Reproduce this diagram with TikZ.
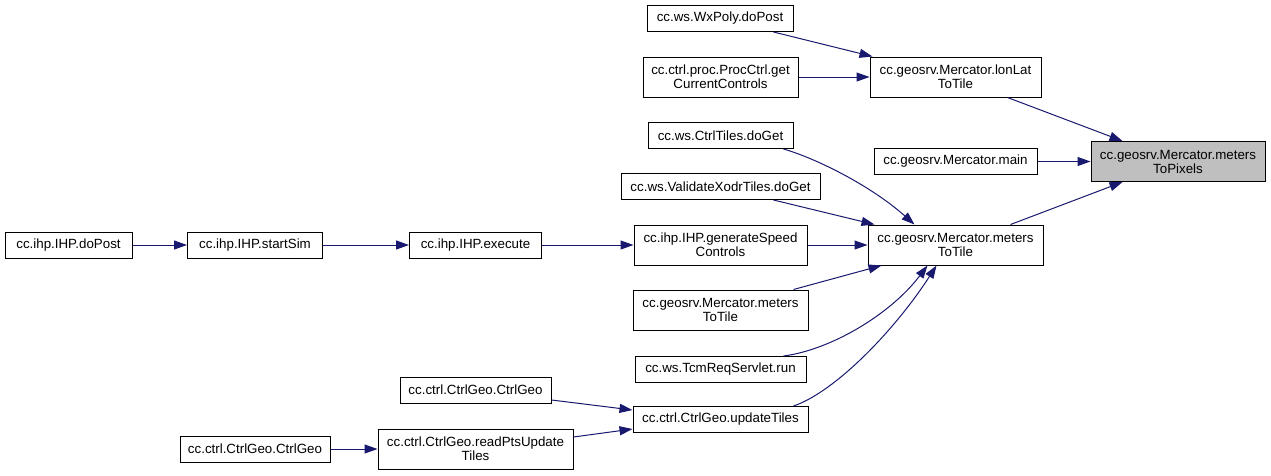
\documentclass[tikz,border=0pt]{standalone}
\usepackage{fontspec}
\setmainfont{Liberation Sans}
\usetikzlibrary{arrows.meta}
\definecolor{edgeblue}{HTML}{191970}
\definecolor{rootgray}{HTML}{BFBFBF}
\begin{document}
\begin{tikzpicture}[x=1pt,y=-1pt,
  box/.style={draw=black, line width=1pt, inner sep=0pt, align=center,
    font=\fontsize{13.33}{14}\selectfont, fill=white},
  one/.style={box, minimum height=26pt},
  two/.style={box, minimum height=40pt},
  edge/.style={draw=edgeblue, line width=1pt, -{Triangle[length=13pt,width=9pt]}}]
\useasboundingbox[fill=white] (0,0) rectangle (1271,475);
% nodes
\node[two, minimum width=174pt, fill=rootgray] (root) at (1178,161.5) {cc.geosrv.Mercator.meters\\ToPixels};
\node[two, minimum width=171pt] (lonlat) at (955.5,77) {cc.geosrv.Mercator.lonLat\\ToTile};
\node[one, minimum width=146pt] (wxpoly) at (720,18.5) {cc.ws.WxPoly.doPost};
\node[two, minimum width=155pt] (procctrl) at (720.5,77) {cc.ctrl.proc.ProcCtrl.get\\CurrentControls};
\node[one, minimum width=163pt] (main) at (955.5,161.5) {cc.geosrv.Mercator.main};
\node[two, minimum width=175pt] (m2t) at (955.5,245) {cc.geosrv.Mercator.meters\\ToTile};
\node[one, minimum width=145pt] (ctrltiles) at (720.5,135.5) {cc.ws.CtrlTiles.doGet};
\node[one, minimum width=199pt] (validate) at (720.5,186.5) {cc.ws.ValidateXodrTiles.doGet};
\node[two, minimum width=173pt] (genspeed) at (720.5,245) {cc.ihp.IHP.generateSpeed\\Controls};
\node[two, minimum width=175pt] (m2tl) at (720.5,310) {cc.geosrv.Mercator.meters\\ToTile};
\node[one, minimum width=171pt] (tcm) at (720.5,369.5) {cc.ws.TcmReqServlet.run};
\node[one, minimum width=175pt] (upd) at (720.5,419.5) {cc.ctrl.CtrlGeo.updateTiles};
\node[one, minimum width=132pt] (execute) at (475.5,245) {cc.ihp.IHP.execute};
\node[one, minimum width=135pt] (startsim) at (255,245) {cc.ihp.IHP.startSim};
\node[one, minimum width=127pt] (dopost) at (68.5,245) {cc.ihp.IHP.doPost};
\node[one, minimum width=151pt] (cgu) at (475.5,390) {cc.ctrl.CtrlGeo.CtrlGeo};
\node[two, minimum width=195pt] (readpts) at (475.5,449) {cc.ctrl.CtrlGeo.readPtsUpdate\\Tiles};
\node[one, minimum width=150pt] (cgl) at (255,449) {cc.ctrl.CtrlGeo.CtrlGeo};
% edges
\draw[edge] ([xshift=-20pt]wxpoly.south east) -- ([xshift=3pt]lonlat.north west);
\draw[edge] (procctrl) -- (lonlat);
\draw[edge] ([xshift=-34pt]lonlat.south east) -- ([xshift=32pt]root.north west);
\draw[edge] (main) -- (root);
\draw[edge] ([xshift=-33pt]m2t.north east) -- ([xshift=32pt]root.south west);
\draw[edge] ([xshift=-10pt]ctrltiles.south east) .. controls (815,158) and (870,185) .. ([xshift=47pt]m2t.north west);
\draw[edge] ([xshift=-47pt]validate.south east) -- ([xshift=7pt]m2t.north west);
\draw[edge] (genspeed) -- (m2t);
\draw[edge] ([xshift=-15pt]m2tl.north east) -- ([xshift=14pt]m2t.south west);
\draw[edge] ([xshift=-23pt]tcm.north east) .. controls (830,350) and (890,315) .. ([xshift=60pt]m2t.south west);
\draw[edge] ([xshift=-15pt]upd.north east) .. controls (835,392) and (895,330) .. ([xshift=69pt]m2t.south west);
\draw[edge] (execute) -- (genspeed);
\draw[edge] (startsim) -- (execute);
\draw[edge] (dopost) -- (startsim);
\draw[edge] ([yshift=-10pt]cgu.east) -- ([yshift=9.5pt]upd.west);
\draw[edge] ([yshift=12pt]readpts.east) -- ([yshift=-9.5pt]upd.west);
\draw[edge] (cgl) -- (readpts);
\end{tikzpicture}
\end{document}
